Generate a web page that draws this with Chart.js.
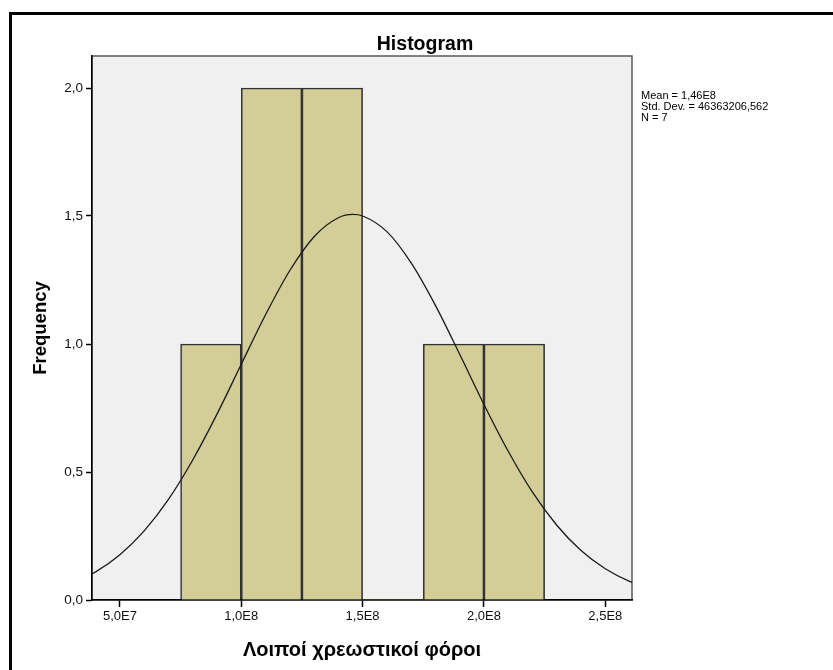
<!DOCTYPE html>
<html>
<head>
<meta charset="utf-8">
<script src="https://cdn.jsdelivr.net/npm/chart.js@4/dist/chart.umd.min.js"></script>
<style>
  body { margin: 0; background: #fff; }
  canvas { display: block; }
</style>
</head>
<body>
<canvas id="histChart" width="833" height="670"></canvas>
<script>
// histogram bins (lower edges) and counts
const binStarts = [7.5e7, 1.0e8, 1.25e8, 1.5e8, 1.75e8, 2.0e8];
const binCounts = [1, 2, 2, 0, 1, 1];
const binWidth = 2.5e7;

// normal curve heights
const curveX = [3e7, 4e7, 5e7, 6e7, 7e7, 8e7, 9e7, 1.0e8, 1.1e8, 1.2e8, 1.3e8, 1.4e8, 1.46e8,
                1.5e8, 1.6e8, 1.7e8, 1.8e8, 1.9e8, 2.0e8, 2.1e8, 2.2e8, 2.3e8, 2.4e8, 2.5e8, 2.6e8, 2.7e8];
const curveY = [0.066, 0.110, 0.177, 0.270, 0.393, 0.547, 0.726, 0.921, 1.114, 1.287, 1.419, 1.493, 1.506,
                1.500, 1.439, 1.317, 1.151, 0.960, 0.764, 0.581, 0.421, 0.292, 0.193, 0.122, 0.073, 0.042];

// axis ticks
const xTicks = [5e7, 1.0e8, 1.5e8, 2.0e8, 2.5e8];
const xTickLabels = ['5,0E7', '1,0E8', '1,5E8', '2,0E8', '2,5E8'];
const yTicks = [0, 0.5, 1.0, 1.5, 2.0];
const yTickLabels = ['0,0', '0,5', '1,0', '1,5', '2,0'];

const statsLines = ['Mean = 1,46E8', 'Std. Dev. = 46363206,562', 'N = 7'];
const FONT = '"Liberation Sans", Arial, sans-serif';

const bars = binStarts.map((s, i) => ({ x: s + binWidth / 2, y: binCounts[i] }));
const curve = curveX.map((x, i) => ({ x: x, y: curveY[i] }));

// background, frame, title and stats box
const decor = {
  id: 'decor',
  beforeDraw(chart) {
    const ctx = chart.ctx;
    const a = chart.chartArea;
    ctx.save();
    ctx.fillStyle = '#fff';
    ctx.fillRect(0, 0, chart.width, chart.height);
    // outer frame
    ctx.strokeStyle = '#000';
    ctx.lineWidth = 3;
    ctx.beginPath();
    ctx.moveTo(10.5, chart.height);
    ctx.lineTo(10.5, 13.5);
    ctx.lineTo(chart.width, 13.5);
    ctx.stroke();
    // plot area
    ctx.fillStyle = '#f0f0f0';
    ctx.fillRect(a.left, a.top, a.right - a.left, a.bottom - a.top);
    ctx.strokeStyle = '#5a5a5a';
    ctx.lineWidth = 1.5;
    ctx.strokeRect(a.left, a.top, a.right - a.left, a.bottom - a.top);
    // title
    ctx.fillStyle = '#000';
    ctx.font = 'bold 19.5px ' + FONT;
    ctx.textAlign = 'center';
    ctx.textBaseline = 'alphabetic';
    ctx.fillText('Histogram', 425, 50);
    // stats
    ctx.font = '11px ' + FONT;
    ctx.textAlign = 'left';
    ctx.textBaseline = 'middle';
    statsLines.forEach((t, i) => ctx.fillText(t, 641, 96 + i * 11));
    ctx.restore();
  }
};

new Chart(document.getElementById('histChart'), {
  type: 'bar',
  data: {
    datasets: [
      {
        type: 'line',
        data: curve,
        borderColor: '#1a1a1a',
        borderWidth: 1.3,
        pointRadius: 0,
        cubicInterpolationMode: 'monotone',
        fill: false,
        order: 0
      },
      {
        data: bars,
        backgroundColor: '#d3ce98',
        borderColor: '#333',
        borderWidth: ctx => (ctx.raw && ctx.raw.y === 0 ? 0 : 1.6),
        barPercentage: 1,
        categoryPercentage: 1,
        order: 1
      }
    ]
  },
  options: {
    responsive: false,
    animation: false,
    events: [],
    layout: { padding: { left: 0, top: 56, right: 201, bottom: 0 } },
    plugins: { legend: { display: false }, tooltip: { enabled: false } },
    scales: {
      x: {
        type: 'linear',
        offset: false,
        min: 3.85e7,
        max: 2.61e8,
        afterBuildTicks: s => { s.ticks = xTicks.map(v => ({ value: v })); },
        afterFit: s => { s.height = 70; },
        grid: { offset: false, drawOnChartArea: false, drawTicks: true, tickLength: 7, tickColor: '#000', tickWidth: 1.5 },
        border: { display: true, color: '#000', width: 1.5 },
        ticks: {
          color: '#111',
          font: { family: FONT, size: 13 },
          padding: 2,
          maxRotation: 0,
          callback: (v, i) => xTickLabels[i]
        },
        title: {
          display: true,
          text: 'Λοιποί χρεωστικοί φόροι',
          color: '#000',
          font: { family: FONT, size: 20, weight: 'bold' },
          padding: { top: 0, bottom: 8 }
        }
      },
      y: {
        min: 0,
        max: 2.125,
        afterBuildTicks: s => { s.ticks = yTicks.map(v => ({ value: v })); },
        afterFit: s => { s.width = 92; },
        grid: { drawOnChartArea: false, drawTicks: true, tickLength: 6, tickColor: '#000', tickWidth: 1.5 },
        border: { display: true, color: '#000', width: 1.5 },
        ticks: {
          color: '#111',
          font: { family: FONT, size: 13.5 },
          padding: 3,
          callback: (v, i) => yTickLabels[i]
        },
        title: {
          display: true,
          text: 'Frequency',
          color: '#000',
          font: { family: FONT, size: 18.5, weight: 'bold' },
          padding: { top: 30, bottom: 0 }
        }
      }
    }
  },
  plugins: [decor]
});
</script>
</body>
</html>
